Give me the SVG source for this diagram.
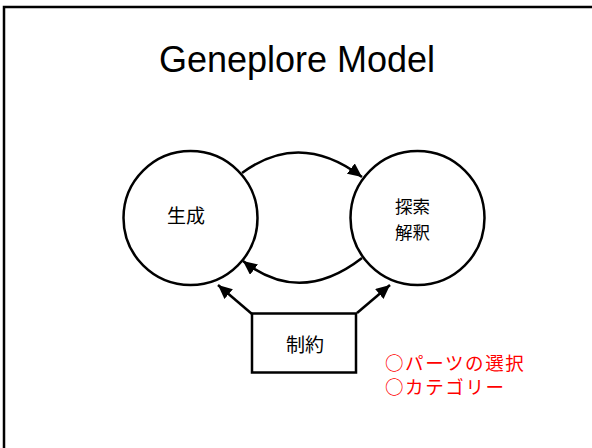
<svg xmlns="http://www.w3.org/2000/svg" width="592" height="448" viewBox="0 0 592 448">
<style>
.node{fill:#fff;stroke:#000;stroke-width:2.5}
.lbl{font-family:"Noto Sans CJK JP",sans-serif;font-size:19px;fill:#000;text-anchor:middle;dominant-baseline:central}
.conn{fill:none;stroke:#000;stroke-width:2.5}
.note{font-family:"Noto Sans CJK JP",sans-serif;font-size:18.5px;letter-spacing:1.6px;fill:#ff0000;dominant-baseline:central}
</style>
<defs>
<marker id="ah" markerUnits="userSpaceOnUse" markerWidth="15" markerHeight="13" refX="14" refY="6.5" orient="auto">
<path d="M0,0 L14,6.5 L0,13 z" fill="#000"/>
</marker>
</defs>
<rect x="0" y="0" width="592" height="448" fill="#fff"/>
<rect x="4" y="7" width="600" height="470" fill="none" stroke="#000" stroke-width="2.5"/>
<text x="297" y="72" font-family="Liberation Sans, sans-serif" font-size="36" text-anchor="middle" fill="#000">Geneplore Model</text>
<g id="generate">
<circle class="node" cx="190.5" cy="218" r="67"/>
<text class="lbl" x="186" y="214">生成</text>
</g>
<g id="explore">
<circle class="node" cx="417.5" cy="218" r="67"/>
<text class="lbl" x="412.5" y="205.5" style="font-size:17.5px">探索</text>
<text class="lbl" x="412.5" y="231" style="font-size:17.5px">解釈</text>
</g>
<g id="constraint">
<rect class="node" x="252" y="313.5" width="104" height="59"/>
<text class="lbl" x="305" y="343">制約</text>
</g>
<g id="connectors">
<path class="conn" d="M242,173 Q300,130 362,177" marker-end="url(#ah)"/>
<path class="conn" d="M362,258 Q300,306 243,261" marker-end="url(#ah)"/>
<path class="conn" d="M252,314 L218,285" marker-end="url(#ah)"/>
<path class="conn" d="M357,313 L390,285" marker-end="url(#ah)"/>
</g>
<g id="notes">
<text class="note" x="385" y="361.5">○パーツの選択</text>
<text class="note" x="385" y="386">○カテゴリー</text>
</g>
</svg>
